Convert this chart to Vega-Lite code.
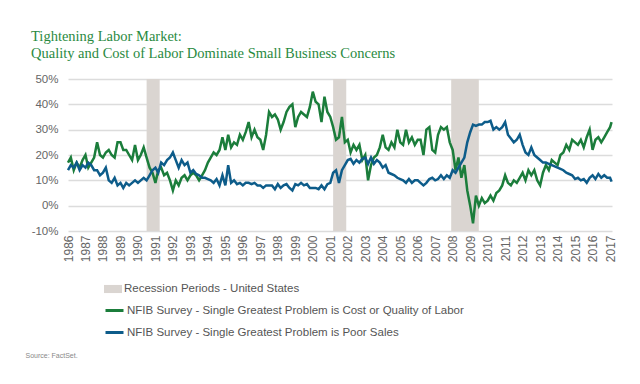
{
  "$schema": "https://vega.github.io/schema/vega-lite/v6.json",
  "width": 544,
  "height": 152,
  "autosize": {"type": "none"},
  "padding": {"left": 68, "top": 79, "right": 28, "bottom": 153},
  "background": "white",
  "config": {"view": {"stroke": null}, "font": "Liberation Sans"},
  "title": {
    "text": ["Tightening Labor Market:", "Quality and Cost of Labor Dominate Small Business Concerns"],
    "anchor": "start", "frame": "group", "dx": -37, "offset": 12,
    "font": "Liberation Serif", "fontSize": 14.5, "fontWeight": "normal",
    "color": "#2a8a3f"
  },
  "layer": [
    {
      "data": {"values": [
        {"s": "1990-07-01", "e": "1991-03-31", "r": "Recession Periods - United States"},
        {"s": "2001-03-01", "e": "2001-11-30", "r": "Recession Periods - United States"},
        {"s": "2007-12-01", "e": "2009-06-30", "r": "Recession Periods - United States"}
      ]},
      "mark": {"type": "rect"},
      "encoding": {
        "x": {"field": "s", "type": "temporal",
          "scale": {"domain": [{"year": 1986, "month": 1, "date": 1}, {"year": 2017, "month": 2, "date": 10}], "nice": false},
          "axis": {"format": "%Y", "tickCount": {"interval": "year", "step": 1}, "labelAngle": -90,
            "labelFlush": false, "labelOverlap": false, "labelBound": false, "ticks": false, "domain": false,
            "grid": false, "labelPadding": 4, "labelFontSize": 12, "labelColor": "#666666",
            "title": "Source: FactSet.", "titleX": -43, "titleY": 124, "titleAlign": "left",
            "titleBaseline": "middle", "titleFontSize": 7, "titleFontWeight": "normal", "titleColor": "#888888"}},
        "x2": {"field": "e"},
        "fill": {"field": "r", "type": "nominal", "scale": {"range": ["#dad5d1"]},
          "legend": {"orient": "none", "legendX": 36, "legendY": 201, "title": null,
            "symbolType": "M-1,-0.45H1V0.45H-1Z", "symbolSize": 324, "symbolStrokeWidth": 0,
            "labelFontSize": 11.5, "labelColor": "#555555", "labelOffset": 2, "padding": 0, "labelLimit": 0}}
      }
    },
    {
      "data": {"values": [
        {"d":"1986-01-01","g":17,"b":14},{"d":"1986-03-01","g":19,"b":16},{"d":"1986-05-01","g":14,"b":15},{"d":"1986-07-01","g":17,"b":17},{"d":"1986-09-01","g":15,"b":14},{"d":"1986-11-01","g":18,"b":16},
        {"d":"1987-01-01","g":20,"b":15},{"d":"1987-03-01","g":15,"b":17},{"d":"1987-05-01","g":17,"b":16},{"d":"1987-07-01","g":19,"b":14},{"d":"1987-09-01","g":25,"b":14},{"d":"1987-11-01","g":20,"b":12},
        {"d":"1988-01-01","g":19,"b":13},{"d":"1988-03-01","g":21,"b":15},{"d":"1988-05-01","g":22,"b":10},{"d":"1988-07-01","g":20,"b":9},{"d":"1988-09-01","g":19,"b":11},{"d":"1988-11-01","g":25,"b":8},
        {"d":"1989-01-01","g":25,"b":9},{"d":"1989-03-01","g":22,"b":7},{"d":"1989-05-01","g":22,"b":9},{"d":"1989-07-01","g":20,"b":8},{"d":"1989-09-01","g":18,"b":9},{"d":"1989-11-01","g":24,"b":10},
        {"d":"1990-01-01","g":18,"b":9},{"d":"1990-03-01","g":20,"b":10},{"d":"1990-05-01","g":23,"b":11},{"d":"1990-07-01","g":19,"b":10},{"d":"1990-09-01","g":15,"b":12},{"d":"1990-11-01","g":13,"b":14},
        {"d":"1991-01-01","g":9,"b":15},{"d":"1991-03-01","g":14,"b":13},{"d":"1991-05-01","g":15,"b":17},{"d":"1991-07-01","g":12,"b":16},{"d":"1991-09-01","g":13,"b":18},{"d":"1991-11-01","g":10,"b":19},
        {"d":"1992-01-01","g":6,"b":21},{"d":"1992-03-01","g":10,"b":18},{"d":"1992-05-01","g":8,"b":15},{"d":"1992-07-01","g":11,"b":18},{"d":"1992-09-01","g":12,"b":16},{"d":"1992-11-01","g":10,"b":17},
        {"d":"1993-01-01","g":12,"b":13},{"d":"1993-03-01","g":13,"b":14},{"d":"1993-05-01","g":12,"b":12.5},{"d":"1993-07-01","g":10,"b":12},{"d":"1993-09-01","g":12,"b":11},{"d":"1993-11-01","g":14,"b":11},
        {"d":"1994-01-01","g":17,"b":10.5},{"d":"1994-03-01","g":19,"b":10},{"d":"1994-05-01","g":21,"b":9},{"d":"1994-07-01","g":20,"b":10.5},{"d":"1994-09-01","g":22,"b":8},{"d":"1994-11-01","g":27,"b":12},
        {"d":"1995-01-01","g":22,"b":8},{"d":"1995-03-01","g":28,"b":16},{"d":"1995-05-01","g":23,"b":9},{"d":"1995-07-01","g":25,"b":10},{"d":"1995-09-01","g":24,"b":8.5},{"d":"1995-11-01","g":28,"b":9},
        {"d":"1996-01-01","g":26,"b":8},{"d":"1996-03-01","g":29,"b":9},{"d":"1996-05-01","g":33,"b":9},{"d":"1996-07-01","g":27,"b":8.5},{"d":"1996-09-01","g":30,"b":9},{"d":"1996-11-01","g":27,"b":8},
        {"d":"1997-01-01","g":26,"b":8},{"d":"1997-03-01","g":22,"b":7},{"d":"1997-05-01","g":28,"b":8},{"d":"1997-07-01","g":37,"b":8},{"d":"1997-09-01","g":35,"b":8},{"d":"1997-11-01","g":36,"b":6.5},
        {"d":"1998-01-01","g":34,"b":8.5},{"d":"1998-03-01","g":30,"b":7},{"d":"1998-05-01","g":33,"b":8},{"d":"1998-07-01","g":37,"b":8.5},{"d":"1998-09-01","g":39,"b":7},{"d":"1998-11-01","g":40,"b":6},
        {"d":"1999-01-01","g":31,"b":8.5},{"d":"1999-03-01","g":35,"b":8},{"d":"1999-05-01","g":37,"b":9},{"d":"1999-07-01","g":36,"b":8},{"d":"1999-09-01","g":35,"b":8.5},{"d":"1999-11-01","g":39,"b":7},
        {"d":"2000-01-01","g":45,"b":7},{"d":"2000-03-01","g":41,"b":7},{"d":"2000-05-01","g":40,"b":6.5},{"d":"2000-07-01","g":33,"b":8},{"d":"2000-09-01","g":43,"b":6.5},{"d":"2000-11-01","g":37,"b":8.5},
        {"d":"2001-01-01","g":35,"b":9},{"d":"2001-03-01","g":31,"b":13},{"d":"2001-05-01","g":26,"b":14},{"d":"2001-07-01","g":27,"b":9},{"d":"2001-09-01","g":35,"b":14},{"d":"2001-11-01","g":25,"b":16},
        {"d":"2002-01-01","g":26,"b":18},{"d":"2002-03-01","g":21,"b":18.5},{"d":"2002-05-01","g":24,"b":16.5},{"d":"2002-07-01","g":22,"b":18},{"d":"2002-09-01","g":24,"b":17},{"d":"2002-11-01","g":18,"b":18.5},
        {"d":"2003-01-01","g":20,"b":19},{"d":"2003-03-01","g":10,"b":16.5},{"d":"2003-05-01","g":16,"b":19},{"d":"2003-07-01","g":19,"b":16.5},{"d":"2003-09-01","g":20,"b":18},{"d":"2003-11-01","g":23,"b":17},
        {"d":"2004-01-01","g":28,"b":15},{"d":"2004-03-01","g":23,"b":16},{"d":"2004-05-01","g":22,"b":13},{"d":"2004-07-01","g":25,"b":12.5},{"d":"2004-09-01","g":23,"b":12},{"d":"2004-11-01","g":30,"b":11},
        {"d":"2005-01-01","g":25,"b":10.5},{"d":"2005-03-01","g":24,"b":10},{"d":"2005-05-01","g":30,"b":9},{"d":"2005-07-01","g":25,"b":10.5},{"d":"2005-09-01","g":27,"b":9},{"d":"2005-11-01","g":24,"b":10},
        {"d":"2006-01-01","g":26,"b":10},{"d":"2006-03-01","g":26,"b":9},{"d":"2006-05-01","g":20,"b":8},{"d":"2006-07-01","g":30,"b":9},{"d":"2006-09-01","g":31,"b":10.5},{"d":"2006-11-01","g":22,"b":11},
        {"d":"2007-01-01","g":21,"b":10},{"d":"2007-03-01","g":28,"b":10.5},{"d":"2007-05-01","g":31,"b":12},{"d":"2007-07-01","g":30,"b":10.5},{"d":"2007-09-01","g":31,"b":12},{"d":"2007-11-01","g":25,"b":11},
        {"d":"2008-01-01","g":22,"b":14},{"d":"2008-03-01","g":14,"b":13},{"d":"2008-05-01","g":19,"b":15},{"d":"2008-07-01","g":11,"b":17},{"d":"2008-09-01","g":16,"b":19},{"d":"2008-11-01","g":6,"b":25},
        {"d":"2009-01-01","g":0,"b":29},{"d":"2009-03-01","g":-7,"b":32},{"d":"2009-05-01","g":4,"b":31.5},{"d":"2009-07-01","g":0,"b":32},{"d":"2009-09-01","g":3,"b":32},{"d":"2009-11-01","g":1,"b":33},
        {"d":"2010-01-01","g":2,"b":33},{"d":"2010-03-01","g":4,"b":33.5},{"d":"2010-05-01","g":2,"b":30},{"d":"2010-07-01","g":5,"b":31},{"d":"2010-09-01","g":6,"b":30},{"d":"2010-11-01","g":8,"b":31},
        {"d":"2011-01-01","g":12,"b":33},{"d":"2011-03-01","g":9,"b":28},{"d":"2011-05-01","g":8,"b":26.5},{"d":"2011-07-01","g":10,"b":25},{"d":"2011-09-01","g":9,"b":26},{"d":"2011-11-01","g":11,"b":28},
        {"d":"2012-01-01","g":13,"b":24},{"d":"2012-03-01","g":10,"b":21},{"d":"2012-05-01","g":14,"b":20},{"d":"2012-07-01","g":12,"b":23},{"d":"2012-09-01","g":14,"b":20},{"d":"2012-11-01","g":10,"b":19},
        {"d":"2013-01-01","g":8,"b":18},{"d":"2013-03-01","g":13,"b":17},{"d":"2013-05-01","g":16,"b":17},{"d":"2013-07-01","g":14,"b":16.5},{"d":"2013-09-01","g":18,"b":16},{"d":"2013-11-01","g":17,"b":15.5},
        {"d":"2014-01-01","g":16,"b":15},{"d":"2014-03-01","g":20,"b":14.5},{"d":"2014-05-01","g":21,"b":14},{"d":"2014-07-01","g":24,"b":13},{"d":"2014-09-01","g":22,"b":12.5},{"d":"2014-11-01","g":26,"b":12},
        {"d":"2015-01-01","g":25,"b":10.5},{"d":"2015-03-01","g":24,"b":11},{"d":"2015-05-01","g":26,"b":10},{"d":"2015-07-01","g":23,"b":10.5},{"d":"2015-09-01","g":27,"b":9},{"d":"2015-11-01","g":30,"b":11},
        {"d":"2016-01-01","g":22,"b":12},{"d":"2016-03-01","g":26,"b":10.5},{"d":"2016-05-01","g":27,"b":12.5},{"d":"2016-07-01","g":25,"b":11},{"d":"2016-09-01","g":27,"b":12},{"d":"2016-11-01","g":29,"b":11},
        {"d":"2017-01-01","g":31,"b":11},{"d":"2017-02-01","g":33,"b":9.5}
      ]},
      "transform": [{"fold": ["g", "b"], "as": ["k", "v"]}],
      "mark": {"type": "line", "strokeWidth": 2.5},
      "encoding": {
        "x": {"field": "d", "type": "temporal",
          "scale": {"domain": [{"year": 1986, "month": 1, "date": 1}, {"year": 2017, "month": 2, "date": 10}], "nice": false}},
        "y": {"field": "v", "type": "quantitative",
          "scale": {"domain": [-10, 50], "nice": false},
          "axis": {"values": [-10, 0, 10, 20, 30, 40, 50], "labelExpr": "datum.value + '%'", "title": null,
            "domain": false, "ticks": false, "gridColor": "#dcdcdc", "gridWidth": 1.5,
            "labelColor": "#666666", "labelFontSize": 11.5, "labelPadding": 10}},
        "stroke": {"field": "k", "type": "nominal",
          "scale": {"domain": ["g", "b"], "range": ["#1b7d3b", "#0d5c8a"]},
          "legend": {"orient": "none", "legendX": 36, "legendY": 221, "title": null,
            "symbolType": "stroke", "symbolSize": 324, "symbolStrokeWidth": 3,
            "labelFontSize": 11.5, "labelColor": "#555555", "labelOffset": 2, "rowPadding": 5, "padding": 0, "labelLimit": 0,
            "labelExpr": "datum.value == 'g' ? 'NFIB Survey - Single Greatest Problem is Cost or Quality of Labor' : 'NFIB Survey - Single Greatest Problem is Poor Sales'"}}
      }
    }
  ]
}
